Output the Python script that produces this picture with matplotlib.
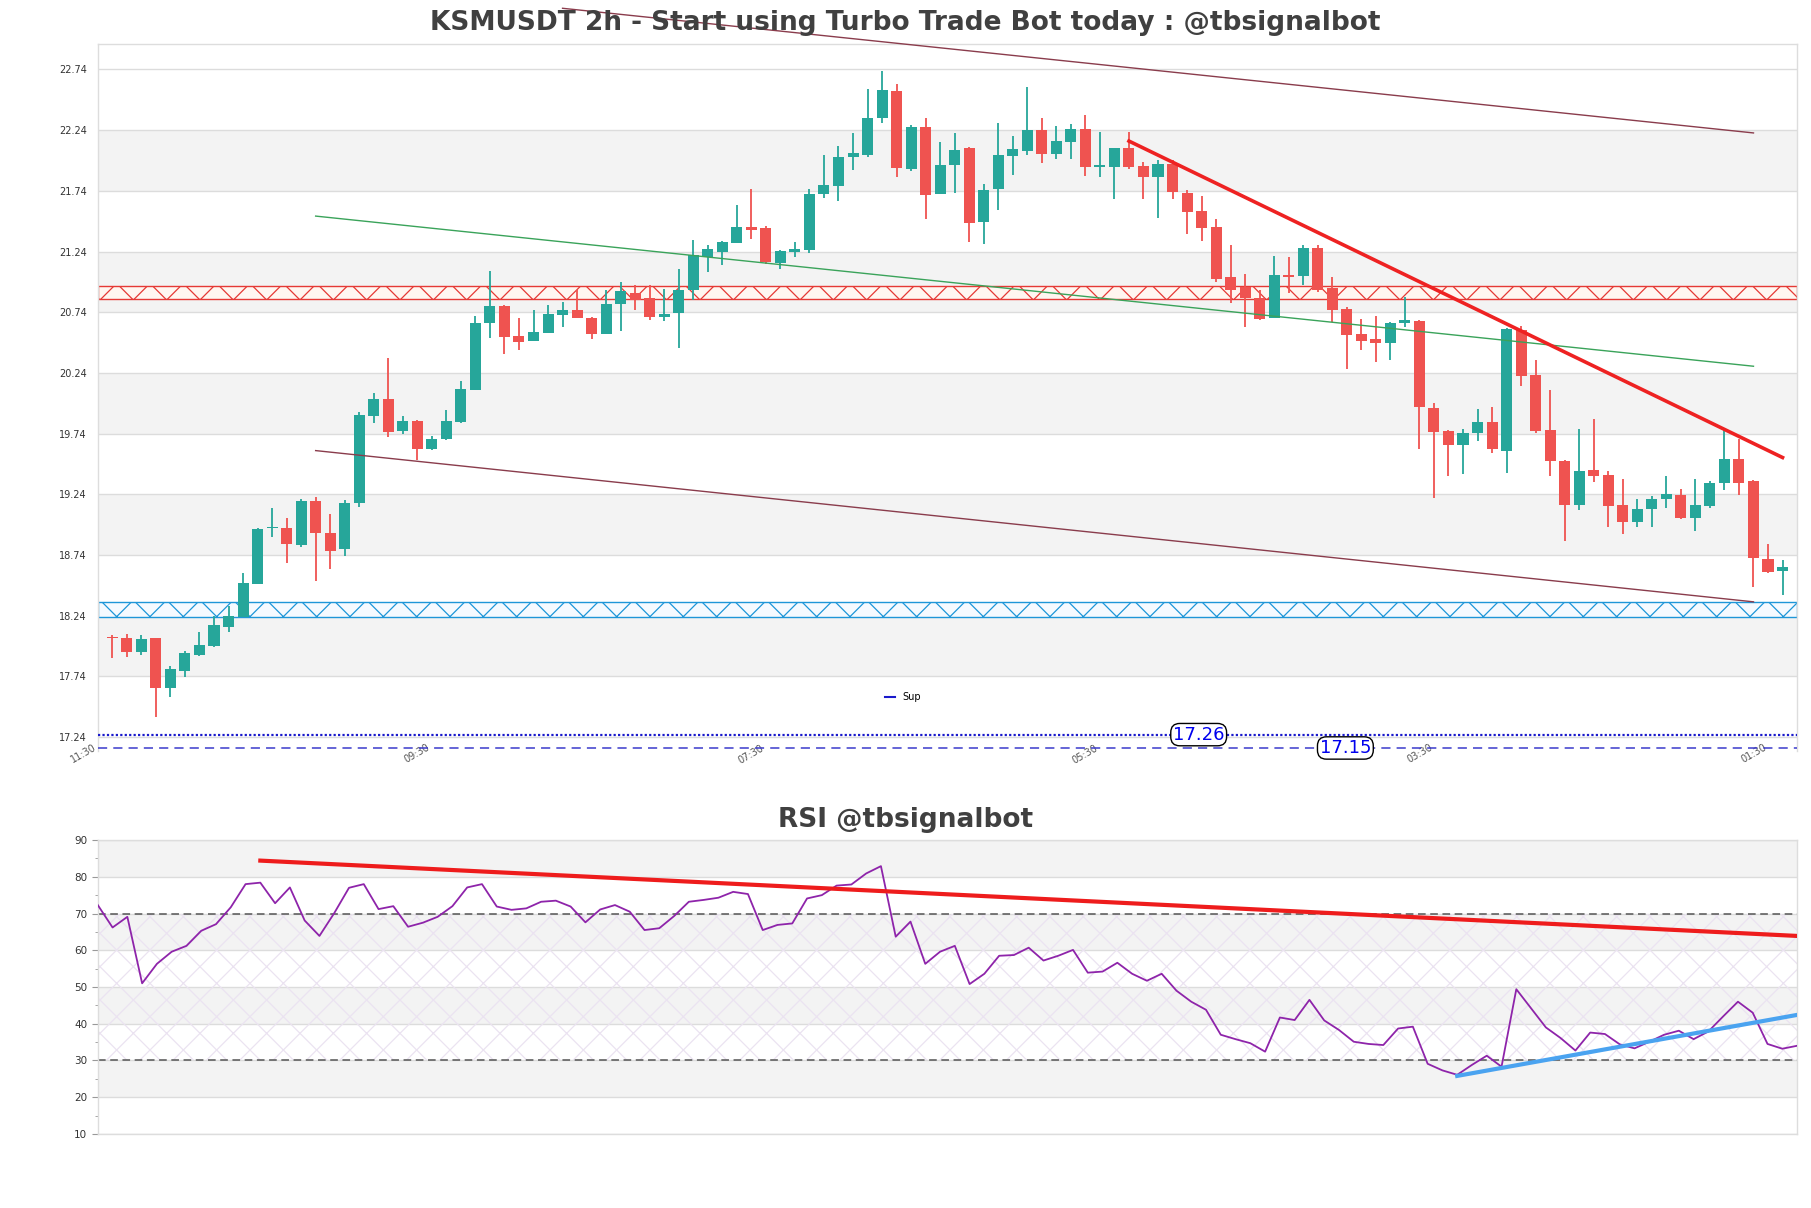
import matplotlib
matplotlib.use("Agg")
import matplotlib.pyplot as plt
from matplotlib.patches import Rectangle
from matplotlib.lines import Line2D

# ---------------- data ----------------
opens = [18.06, 18.053, 17.943, 18.053, 17.647, 17.787, 17.916, 17.99, 18.149, 18.232,
         18.498, 18.96, 18.96, 18.822, 19.188, 18.919, 18.787, 19.171, 19.888, 20.026,
         19.762, 19.842, 19.616, 19.699, 19.836, 20.103, 20.652, 20.79, 20.54, 20.504,
         20.57, 20.718, 20.756, 20.696, 20.564, 20.811, 20.902, 20.858, 20.702, 20.735,
         20.921, 21.196, 21.237, 21.311, 21.438, 21.43, 21.149, 21.237, 21.251, 21.718,
         21.778, 22.02, 22.034, 22.336, 22.561, 21.919, 22.262, 21.718, 21.957, 22.089,
         21.484, 21.754, 22.028, 22.07, 22.24, 22.042, 22.144, 22.248, 21.94, 21.938,
         22.089, 21.943, 21.855, 21.965, 21.726, 21.572, 21.438, 21.029, 20.949, 20.861,
         20.696, 21.048, 21.04, 21.27, 20.943, 20.767, 20.561, 20.52, 20.49, 20.649,
         20.669, 19.949, 19.762, 19.647, 19.743, 19.833, 19.6, 20.594, 20.221, 19.767,
         19.512, 19.149, 19.438, 19.397, 19.149, 19.012, 19.122, 19.202, 19.237, 19.045,
         19.144, 19.336, 19.528, 19.347, 18.71, 18.608]
highs = [18.08, 18.086, 18.08, 18.06, 17.825, 17.95, 18.108, 18.237, 18.32, 18.594,
         18.96, 19.125, 19.042, 19.199, 19.221, 19.078, 19.193, 19.921, 20.072, 20.361,
         19.883, 19.85, 19.718, 19.932, 20.171, 20.707, 21.081, 20.798, 20.696, 20.756,
         20.798, 20.825, 20.921, 20.7, 20.927, 20.99, 20.962, 20.962, 20.935, 21.092,
         21.339, 21.292, 21.325, 21.622, 21.759, 21.449, 21.251, 21.317, 21.759, 22.039,
         22.108, 22.213, 22.583, 22.726, 22.619, 22.281, 22.336, 22.144, 22.218, 22.1,
         21.8, 22.3, 22.19, 22.597, 22.344, 22.273, 22.289, 22.364, 22.226, 22.089,
         22.226, 21.979, 21.998, 21.998, 21.751, 21.696, 21.512, 21.292, 21.059, 20.921,
         21.204, 21.199, 21.29, 21.29, 21.034, 20.787, 20.682, 20.71, 20.663, 20.869,
         20.68, 19.99, 19.77, 19.776, 19.941, 19.962, 20.608, 20.627, 20.347, 20.103,
         19.526, 19.776, 19.864, 19.432, 19.369, 19.199, 19.224, 19.388, 19.287, 19.364,
         19.347, 19.767, 19.699, 19.355, 18.828, 18.696]
lows = [17.888, 17.902, 17.916, 17.408, 17.567, 17.732, 17.908, 17.979, 18.108, 18.232,
        18.498, 18.891, 18.677, 18.809, 18.529, 18.622, 18.732, 19.133, 19.831, 19.715,
        19.74, 19.52, 19.603, 19.685, 19.828, 20.097, 20.528, 20.399, 20.432, 20.504,
        20.57, 20.619, 20.69, 20.523, 20.559, 20.586, 20.762, 20.674, 20.669, 20.449,
        20.844, 21.072, 21.127, 21.311, 21.344, 21.141, 21.097, 21.191, 21.224, 21.677,
        21.658, 21.91, 22.02, 22.3, 21.85, 21.905, 21.504, 21.718, 21.724, 21.32,
        21.306, 21.586, 21.869, 22.037, 21.971, 22.004, 22.004, 21.861, 21.85, 21.669,
        21.924, 21.669, 21.52, 21.669, 21.383, 21.328, 20.99, 20.817, 20.619, 20.674,
        20.696, 20.897, 20.965, 20.91, 20.663, 20.27, 20.43, 20.333, 20.347, 20.616,
        19.611, 19.207, 19.391, 19.408, 19.682, 19.578, 19.419, 20.133, 19.743, 19.391,
        18.855, 19.108, 19.342, 18.971, 18.91, 18.971, 18.971, 19.127, 19.039, 18.938,
        19.13, 19.278, 19.232, 18.476, 18.592, 18.413]
closes = [18.055, 17.943, 18.048, 17.641, 17.798, 17.93, 17.996, 18.163, 18.237, 18.512,
          18.951, 18.965, 18.828, 19.188, 18.919, 18.776, 19.171, 19.894, 20.026, 19.756,
          19.842, 19.616, 19.699, 19.842, 20.105, 20.655, 20.79, 20.537, 20.496, 20.575,
          20.729, 20.756, 20.696, 20.564, 20.811, 20.916, 20.844, 20.702, 20.729, 20.927,
          21.21, 21.257, 21.317, 21.443, 21.421, 21.155, 21.243, 21.259, 21.718, 21.787,
          22.015, 22.048, 22.344, 22.57, 21.93, 22.262, 21.704, 21.957, 22.075, 21.476,
          21.751, 22.039, 22.081, 22.24, 22.042, 22.149, 22.248, 21.938, 21.946, 22.089,
          21.938, 21.855, 21.965, 21.732, 21.567, 21.435, 21.015, 20.927, 20.861, 20.688,
          21.048, 21.034, 21.27, 20.925, 20.759, 20.553, 20.506, 20.49, 20.655, 20.677,
          19.962, 19.756, 19.647, 19.743, 19.833, 19.611, 20.6, 20.218, 19.765, 19.515,
          19.149, 19.43, 19.391, 19.141, 19.012, 19.122, 19.199, 19.245, 19.045, 19.149,
          19.336, 19.528, 19.333, 18.715, 18.6, 18.641]

rsi = [72.3, 66.2, 69.1, 51.0, 56.3, 59.6, 61.2, 65.3, 67.1, 71.7,
       78.0, 78.4, 72.8, 77.1, 68.1, 63.9, 70.1, 77.0, 78.0, 71.2,
       72.0, 66.4, 67.5, 69.1, 72.0, 77.1, 78.0, 71.9, 71.0, 71.4,
       73.2, 73.5, 71.9, 67.6, 71.1, 72.3, 70.5, 65.5, 66.0, 69.3,
       73.2, 73.7, 74.3, 75.9, 75.3, 65.5, 66.9, 67.3, 74.1, 75.0,
       77.6, 77.9, 80.9, 82.9, 63.7, 67.8, 56.3, 59.6, 61.2, 50.8,
       53.6, 58.5, 58.7, 60.7, 57.2, 58.5, 60.1, 53.9, 54.2, 56.6,
       53.6, 51.7, 53.6, 49.0, 46.0, 43.8, 37.0, 35.8, 34.7, 32.4,
       41.7, 41.0, 46.5, 40.9, 38.3, 35.1, 34.5, 34.2, 38.7, 39.2,
       29.1, 27.3, 26.1, 28.8, 31.3, 28.3, 49.4, 44.2, 39.0, 36.1,
       32.7, 37.6, 37.2, 34.4, 33.3, 35.1, 37.0, 38.1, 35.8, 37.9,
       42.0, 46.0, 43.0, 34.5, 33.2, 34.0]

ytick_vals = [17.24, 17.74, 18.24, 18.74, 19.24, 19.74, 20.24, 20.74, 21.24, 21.74, 22.24, 22.74]
xtick_pos = [-1, 22, 45, 68, 91, 114]
xtick_labels = ["11:30", "09:30", "07:30", "05:30", "03:30", "01:30"]

# zones and levels
res_zone = (20.845, 20.955)
sup_zone = (18.23, 18.35)
level_dotted = 17.26
level_dashed = 17.15

# trend lines (x index, price)
chan_upper = ([31, 113], [23.244, 22.217])
chan_mid = ([14, 113], [21.532, 20.295])
chan_lower = ([14, 113], [19.60, 18.354])
down_trend = ([70, 115], [22.15, 19.543])
rsi_res = ([11, 115], [84.4, 63.9])
rsi_sup = ([92, 115], [25.8, 42.4])

# ---------------- style ----------------
GREEN = "#26a69a"
RED = "#ef5350"
BAND = "#f3f3f3"
GRID = "#dcdcdc"
TXT = "#333333"

plt.rcParams["hatch.linewidth"] = 0.9
fig = plt.figure(figsize=(18.11, 12.08), dpi=100)
ax = fig.add_axes([0.054, 0.3783, 0.9383, 0.5853])
ax2 = fig.add_axes([0.054, 0.0613, 0.9383, 0.2433])

n = len(opens)
xs = list(range(n))

# ---------------- main chart ----------------
ax.set_xlim(-1, 116)
ax.set_ylim(17.125, 22.95)
for i in range(1, len(ytick_vals) - 1, 2):
    ax.axhspan(ytick_vals[i], ytick_vals[i + 1], color=BAND, zorder=0, lw=0)
for v in ytick_vals:
    ax.axhline(v, color=GRID, lw=1, zorder=0.5)

# hatched zones
ax.add_patch(Rectangle((-1, res_zone[0]), 117, res_zone[1] - res_zone[0],
                       facecolor="#fff6f0", edgecolor="#e53935", hatch="x", lw=1, zorder=1))
ax.add_patch(Rectangle((-1, sup_zone[0]), 117, sup_zone[1] - sup_zone[0],
                       facecolor="#f5faff", edgecolor="#1e96d8", hatch="x", lw=1, zorder=1))

# candles
colors = [GREEN if c >= o else RED for o, c in zip(opens, closes)]
bottoms = [min(o, c) for o, c in zip(opens, closes)]
heights = [max(abs(c - o), 0.012) for o, c in zip(opens, closes)]
ax.vlines(xs, lows, highs, colors=colors, lw=1.3, zorder=3)
ax.bar(xs, heights, bottom=bottoms, width=0.76, color=colors, lw=0, zorder=4)

# lines
ax.plot(*chan_upper, color="#8a3c4c", lw=1, zorder=5, clip_on=False)
ax.plot(*chan_mid, color="#3aa35a", lw=1, zorder=5)
ax.plot(*chan_lower, color="#8a3c4c", lw=1, zorder=5)
ax.plot(*down_trend, color="#ee2222", lw=2.6, zorder=6)

ax.axhline(level_dotted, color="#1a1acc", lw=1.6, ls=(0, (1, 1)), zorder=5)
ax.axhline(level_dashed, color="#3a3acc", lw=1.1, ls=(0, (6, 4)), zorder=5)
ax.text(74.8, level_dotted, "17.26", color="#0000ee", fontsize=13, ha="center", va="center",
        zorder=7, bbox=dict(boxstyle="round,pad=0.12,rounding_size=0.5", fc="white", ec="black", lw=1))
ax.text(84.9, level_dashed, "17.15", color="#0000ee", fontsize=13, ha="center", va="center",
        zorder=7, bbox=dict(boxstyle="round,pad=0.12,rounding_size=0.5", fc="white", ec="black", lw=1))

leg = ax.legend(handles=[Line2D([0], [0], color="#1a1acc", lw=1.5)], labels=["Sup"],
                loc="center", bbox_to_anchor=(0.474, 0.076), frameon=False, fontsize=7,
                handlelength=1.0, handletextpad=0.8)

ax.set_yticks(ytick_vals)
ax.set_yticklabels([f"{v:.2f}" for v in ytick_vals])
ax.set_xticks(xtick_pos)
ax.set_xticklabels(xtick_labels, rotation=30, ha="right", rotation_mode="default")
ax.tick_params(axis="y", labelsize=7, colors=TXT, length=0, pad=8)
ax.tick_params(axis="x", labelsize=7, colors="#555555", length=0, pad=-6)
for s in ax.spines.values():
    s.set_color("#dddddd")
    s.set_linewidth(1)
ax.spines["bottom"].set_visible(False)

fig.text(0.5, 0.981, "KSMUSDT 2h - Start using Turbo Trade Bot today : @tbsignalbot",
         ha="center", va="center", fontsize=19, fontweight="bold", color="#404040")

# ---------------- RSI ----------------
ax2.set_xlim(0, n - 1)
ax2.set_ylim(10, 90)
for lo in (20, 40, 60, 80):
    ax2.axhspan(lo, lo + 10, color=BAND, lw=0, zorder=0)
for v in range(10, 91, 10):
    ax2.axhline(v, color=GRID, lw=1, zorder=0.5)
ax2.add_patch(Rectangle((0, 30), n - 1, 40, facecolor="none", edgecolor="#ebe3f1",
                        hatch="x", lw=0, zorder=0.8))
ax2.axhline(70, color="#555555", lw=1.1, ls=(0, (5, 3)), zorder=2)
ax2.axhline(30, color="#555555", lw=1.1, ls=(0, (5, 3)), zorder=2)
ax2.plot(xs, rsi, color="#8e24aa", lw=1.3, zorder=3)
ax2.plot(*rsi_res, color="#ee1c1c", lw=3, zorder=4)
ax2.plot(*rsi_sup, color="#4aa3f0", lw=3, zorder=4)

ax2.set_yticks(range(10, 91, 10))
ax2.set_yticks(range(15, 90, 10), minor=True)
ax2.set_xticks([])
ax2.tick_params(axis="y", which="major", labelsize=7.5, colors=TXT, length=4, color="#999999")
ax2.tick_params(axis="y", which="minor", length=2, color="#999999")
for s in ax2.spines.values():
    s.set_color("#dddddd")
    s.set_linewidth(1)

fig.text(0.5, 0.321, "RSI @tbsignalbot", ha="center", va="center", fontsize=19,
         fontweight="bold", color="#404040")

fig.savefig("out.png", dpi=100, facecolor="white")
